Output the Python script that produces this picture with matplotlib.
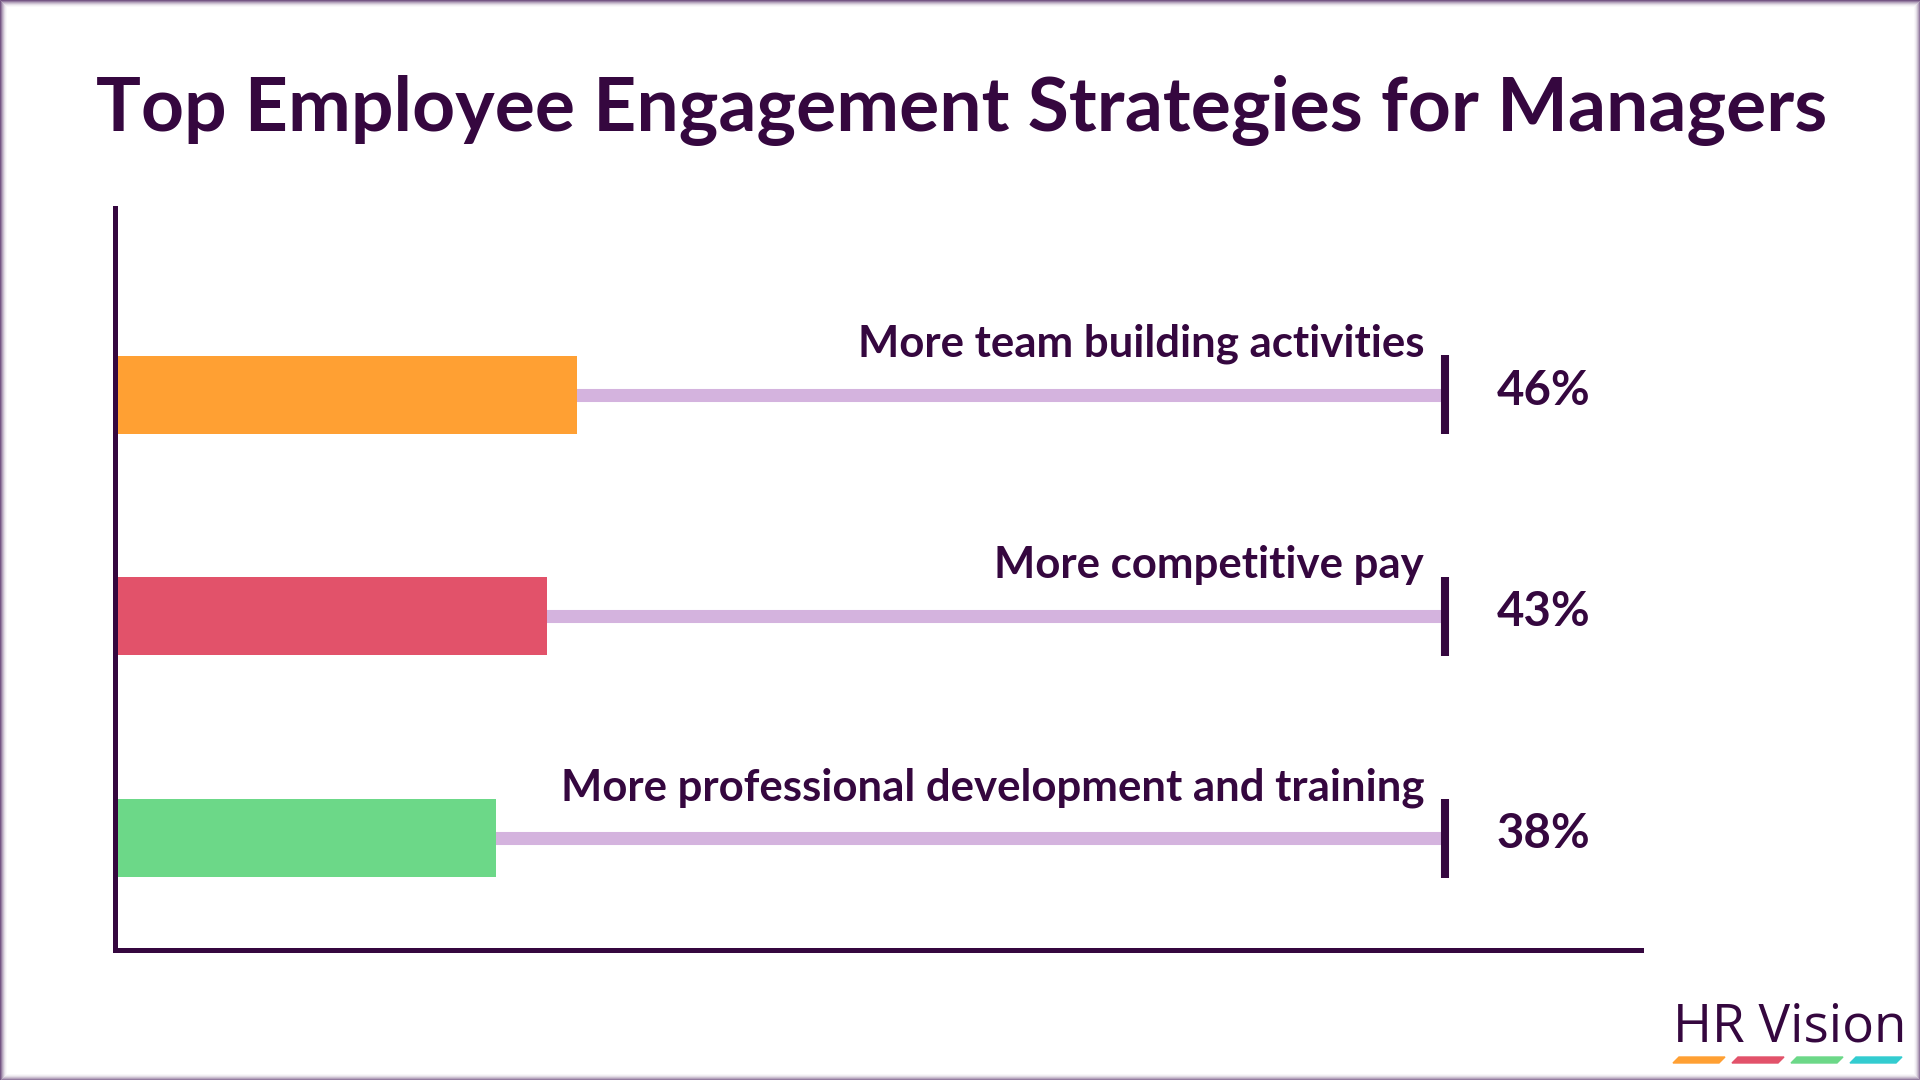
import matplotlib
matplotlib.use("Agg")
import matplotlib.pyplot as plt
from matplotlib.patches import Polygon, Rectangle

# chart data
categories = ["More team building activities",
              "More competitive pay",
              "More professional development and training"]
values = [46, 43, 38]
bar_colors = ["#FFA033", "#E2526A", "#6CD888"]
title = "Top Employee Engagement Strategies for Managers"
brand = "HR Vision"
brand_colors = ["#FFA033", "#E2526A", "#6CD888", "#33CCD0"]

DARK = "#35073F"
TRACK = "#D4B3DE"
W, H = 1920, 1080
PX_PER_UNIT = 10.05        # pixels per percent on the x scale
TRACK_END = 132.4          # where the light track stops (x units)

plt.rcParams["font.family"] = ["Lato", "DejaVu Sans"]

fig = plt.figure(figsize=(W / 100, H / 100), dpi=100)
fig.patch.set_facecolor("white")

# axes placed in pixel terms
ax_left, ax_right, ax_top, ax_bottom = 114.5, 1641, 208, 950
ax = fig.add_axes([ax_left / W, 1 - ax_bottom / H,
                   (ax_right - ax_left) / W, (ax_bottom - ax_top) / H])
ax.set_xlim(0, (ax_right - ax_left) / PX_PER_UNIT)
ax.set_ylim(2.505, -0.842)

rows = list(range(len(categories)))

# light tracks behind the bars
ax.hlines(rows, 0, TRACK_END, color=TRACK, linewidth=9.4, zorder=1)
# bars
ax.barh(rows, values, height=0.352, color=bar_colors, zorder=2)
# end ticks
ax.vlines([TRACK_END] * len(rows), [r - 0.178 for r in rows],
          [r + 0.178 for r in rows], color=DARK, linewidth=5.8, zorder=3)

for r, cat, v in zip(rows, categories, values):
    ax.text(130.3, r - 0.171, cat, ha="right", va="baseline",
            fontsize=31.5, fontweight="bold", color=DARK)
    ax.text(137.5, r + 0.045, f"{v}%", ha="left", va="baseline",
            fontsize=34, fontweight="bold", color=DARK)

for s in ["top", "right"]:
    ax.spines[s].set_visible(False)
for s in ["left", "bottom"]:
    ax.spines[s].set_color(DARK)
    ax.spines[s].set_linewidth(3.6)
    ax.spines[s].set_capstyle("projecting")
ax.set_xticks([])
ax.set_yticks([])
ax.patch.set_alpha(0)

# title
fig.text(96 / W, 1 - 131 / H, title, ha="left", va="baseline",
         fontsize=54, fontweight="bold", color=DARK)

# brand mark
fig.text(1673 / W, 1 - 1042 / H, brand, ha="left", va="baseline",
         fontsize=38.2, family=["Open Sans", "DejaVu Sans"], color=DARK)
seg_w, gap, slant = 52, 7, 6
for i, c in enumerate(brand_colors):
    x0 = 1673 + i * (seg_w + gap)
    pts = [(x0, 1063), (x0 + seg_w - slant, 1063),
           (x0 + seg_w, 1057), (x0 + slant, 1057)]
    fig.patches.append(Polygon([(x / W, 1 - y / H) for x, y in pts],
                               closed=True, transform=fig.transFigure,
                               color=c, zorder=5))

# soft purple frame
for i, a in enumerate([0.85, 0.65, 0.45, 0.3, 0.17, 0.08, 0.03]):
    fig.patches.append(Rectangle((i / W, i / H), 1 - 2 * i / W, 1 - 2 * i / H,
                                 transform=fig.transFigure, fill=False,
                                 edgecolor="#5E3A70", alpha=a, linewidth=0.75,
                                 zorder=10))

fig.savefig("out.png", dpi=100, facecolor="white")
